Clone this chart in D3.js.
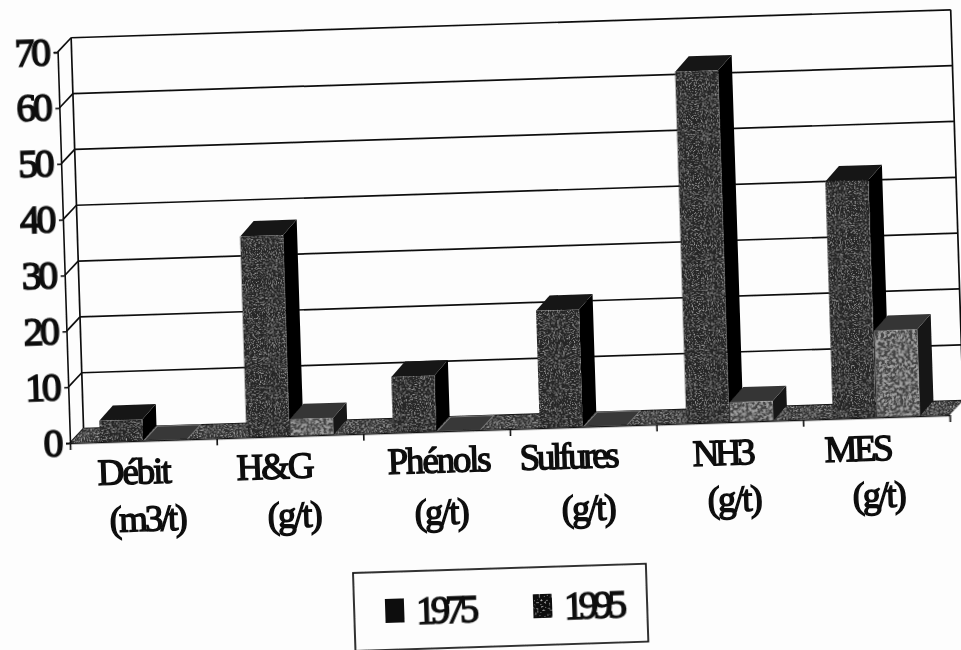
<!DOCTYPE html>
<html lang="fr">
<head>
<meta charset="UTF-8">
<title>Débit et rejets 1975 / 1995</title>
<style>
    body { margin: 0; background: #fdfdfd; overflow: hidden; }
    svg { display: block; }
    text { font-family: "Liberation Serif", "Times New Roman", serif; fill: #111; stroke: #111; stroke-width: 1.4px; }
    .axis path, .axis line { stroke: #111; stroke-width: 1.6px; fill: none; }
    .axis text { font-size: 40px; letter-spacing: -3.5px; stroke-width: 1.6px; }
    .grid line { stroke: #111; stroke-width: 1.7px; }
</style>
</head>
<body>
<div id="chart"></div>
<script src="https://d3js.org/d3.v7.min.js"></script>
<script>
    // values
    const categories = ["Débit", "H&G", "Phénols", "Sulfures", "NH3", "MES"];
    const units = ["(m3/t)", "(g/t)", "(g/t)", "(g/t)", "(g/t)", "(g/t)"];
    const years = ["1975", "1995"];
    const values1975 = [3.8, 36, 10, 21, 63, 42.5];
    const values1995 = [0, 3, 0, 0, 3.5, 15.5];
    const yTicks = [0, 10, 20, 30, 40, 50, 60, 70];

    // hand placed label boxes in page coords: left x, baseline, width
    const nameBoxes = [[98, 485, 74], [237, 480, 78], [388, 474, 104], [520, 470, 100], [693, 466, 63], [825, 462, 69]];
    const unitBoxes = [[110, 532, 78], [268, 528, 55], [415, 525, 55], [562, 521, 55], [708, 512, 55], [853, 508, 54]];

    const width = 961, height = 650;
    const tilt = -1.82;           // the page was scanned crooked
    const plotW = 880, plotH = 391;
    const depth = {x: 14, y: -14};
    const barDepth = {x: 14, y: -15};

    const svg = d3.select("#chart").append("svg")
        .attr("width", width)
        .attr("height", height);

    // grain for the photocopied fills
    const defs = svg.append("defs");
    function addGrain(id, freq, slope, shift, colour) {
        const f = defs.append("filter").attr("id", id)
            .attr("x", 0).attr("y", 0).attr("width", 1).attr("height", 1);
        f.append("feTurbulence").attr("type", "fractalNoise")
            .attr("baseFrequency", freq).attr("numOctaves", 2).attr("seed", 4).attr("result", "n");
        f.append("feColorMatrix").attr("in", "n").attr("type", "matrix")
            .attr("values", `0 0 0 0 ${colour} 0 0 0 0 ${colour} 0 0 0 0 ${colour} ${slope} 0 0 0 ${shift}`)
            .attr("result", "s");
        f.append("feComposite").attr("in", "s").attr("in2", "SourceGraphic").attr("operator", "in").attr("result", "c");
        const m = f.append("feMerge");
        m.append("feMergeNode").attr("in", "SourceGraphic");
        m.append("feMergeNode").attr("in", "c");
    }
    addGrain("grainDark", 0.8, 3, -1.6, 0.42);
    addGrain("grainLight", 0.35, 4, -1.3, 0.06);
    addGrain("grainFloor", 0.7, 3, -1.5, 0.45);
    addGrain("grainSwatch", 0.5, 4, -2.4, 0.5);
    defs.append("filter").attr("id", "scan")
        .attr("filterUnits", "userSpaceOnUse")
        .attr("x", 0).attr("y", 0)
        .attr("width", width).attr("height", height)
        .append("feGaussianBlur").attr("stdDeviation", 0.5);

    const page = svg.append("g").attr("filter", "url(#scan)");
    const g = page.append("g").attr("transform", `translate(70,443) rotate(${tilt})`);

    const x0 = d3.scaleBand().domain(categories).range([0, plotW]);
    const x1 = d3.scaleBand().domain(years).range([30, 118]);
    const y = d3.scaleLinear().domain([0, 70]).range([0, -plotH]);
    const edges = d3.scaleLinear().domain([0, categories.length]).range([0, plotW]);

    const poly = pts => pts.map(p => p.join(",")).join(" ");

    // side and back walls
    const grid = g.append("g").attr("class", "grid");
    grid.selectAll(".back").data(yTicks).enter().append("line")
        .attr("x1", depth.x).attr("x2", plotW + depth.x)
        .attr("y1", d => y(d) + depth.y).attr("y2", d => y(d) + depth.y);
    grid.selectAll(".side").data(yTicks).enter().append("line")
        .attr("x1", 0).attr("x2", depth.x)
        .attr("y1", d => y(d)).attr("y2", d => y(d) + depth.y);
    grid.selectAll(".upright").data([depth.x, plotW + depth.x]).enter().append("line")
        .attr("x1", d => d).attr("x2", d => d)
        .attr("y1", y(0) + depth.y).attr("y2", y(70) + depth.y);

    // floor
    g.append("polygon")
        .attr("points", poly([[0, 0], [plotW, 0], [plotW + depth.x, depth.y], [depth.x, depth.y]]))
        .attr("fill", "#333")
        .attr("filter", "url(#grainFloor)");

    const bars = [];
    years.forEach((yr, s) => {
        const vals = s === 0 ? values1975 : values1995;
        categories.forEach((c, i) => bars.push({cat: c, year: yr, value: vals[i]}));
    });

    const looks = {
        "1975": {front: "#262626", top: "#161616", side: "#060606", grain: "url(#grainDark)"},
        "1995": {front: "#a0a0a0", top: "#363636", side: "#121212", grain: "url(#grainLight)"}
    };

    const bar = g.selectAll(".bar").data(bars).enter().append("g").attr("class", "bar");
    const left = d => x0(d.cat) + x1(d.year);
    const right = d => left(d) + x1.bandwidth() - 1;

    // flat bars only show up as a paler edge on the floor
    bar.filter(d => d.value === 0).append("polygon")
        .attr("points", d => poly([[left(d), 0], [right(d), 0], [right(d) + depth.x, depth.y], [left(d) + depth.x, depth.y]]))
        .attr("fill", "#383838")
        .attr("stroke", "#777")
        .attr("stroke-width", 1);

    const solid = bar.filter(d => d.value > 0);
    solid.append("polygon")
        .attr("points", d => poly([[right(d), 0], [right(d) + barDepth.x, barDepth.y], [right(d) + barDepth.x, y(d.value) + barDepth.y], [right(d), y(d.value)]]))
        .attr("fill", d => looks[d.year].side);
    solid.append("polygon")
        .attr("points", d => poly([[left(d), y(d.value)], [right(d), y(d.value)], [right(d) + barDepth.x, y(d.value) + barDepth.y], [left(d) + barDepth.x, y(d.value) + barDepth.y]]))
        .attr("fill", d => looks[d.year].top);
    solid.append("rect")
        .attr("x", left)
        .attr("y", d => y(d.value))
        .attr("width", x1.bandwidth() - 1)
        .attr("height", d => y(0) - y(d.value))
        .attr("fill", d => looks[d.year].front)
        .attr("filter", d => looks[d.year].grain);

    // axes
    g.append("g").attr("class", "axis")
        .call(d3.axisLeft(y).tickValues(yTicks).tickSize(4).tickPadding(6).tickFormat(d3.format("d")))
        .call(a => a.selectAll("text").attr("dy", "0.3em"));
    g.append("g").attr("class", "axis")
        .call(d3.axisBottom(edges).ticks(categories.length).tickSize(7).tickSizeOuter(0).tickFormat(""));

    // category labels, each one sits where the typist left it
    function addLabels(texts, boxes) {
        page.selectAll(null).data(texts).enter().append("text")
            .attr("x", (d, i) => boxes[i][0])
            .attr("y", (d, i) => boxes[i][1])
            .attr("textLength", (d, i) => boxes[i][2])
            .attr("lengthAdjust", "spacing")
            .attr("font-size", 37)
            .attr("transform", (d, i) => `rotate(${tilt},${boxes[i][0]},${boxes[i][1]})`)
            .text(d => d);
    }
    addLabels(categories, nameBoxes);
    addLabels(units, unitBoxes);

    // legend
    const legend = page.append("g").attr("transform", `translate(353,573) rotate(${tilt})`);
    legend.append("rect")
        .attr("width", 293).attr("height", 78)
        .attr("fill", "none").attr("stroke", "#111").attr("stroke-width", 1.7);
    const legendItems = legend.selectAll(".item").data(years).enter().append("g")
        .attr("class", "item")
        .attr("transform", (d, i) => `translate(${i === 0 ? 31 : 179},27)`);
    legendItems.append("rect")
        .attr("width", 19).attr("height", 24)
        .attr("fill", "#0d0d0d")
        .attr("filter", (d, i) => i === 0 ? null : "url(#grainSwatch)");
    legendItems.append("text")
        .attr("x", 31).attr("y", 26)
        .attr("font-size", 39)
        .attr("textLength", 63)
        .attr("lengthAdjust", "spacing")
        .text(d => d);
</script>
</body>
</html>
